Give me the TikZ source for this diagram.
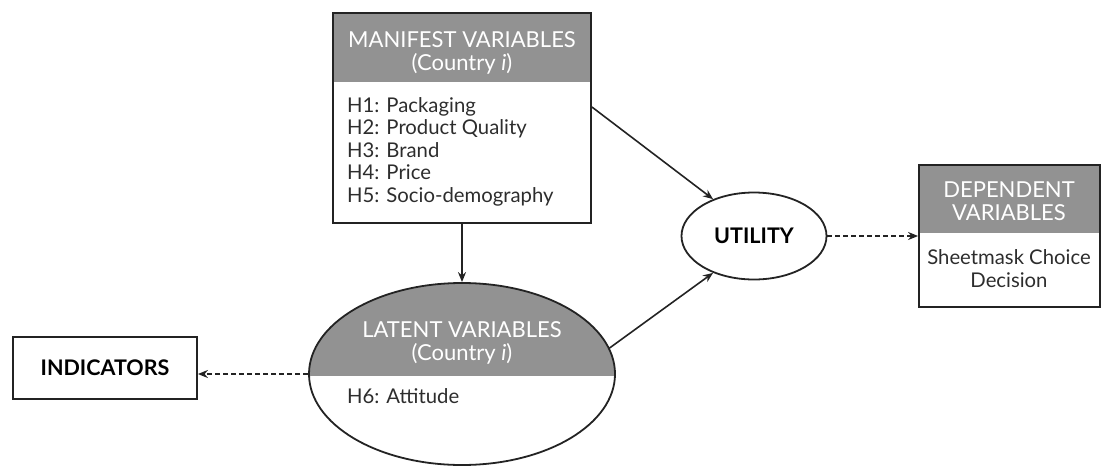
\documentclass[tikz,border=0pt]{standalone}
\usepackage{fontspec}
\setmainfont{Lato}
\usetikzlibrary{shapes.geometric,arrows.meta}
\definecolor{hdr}{RGB}{146,146,146}
\definecolor{ln}{RGB}{35,35,35}
\definecolor{txt}{RGB}{45,45,45}
\tikzset{
  frame/.style={draw=ln, line width=1.8pt, fill=none, inner sep=0pt},
  hdrtext/.style={text=white, align=center, font=\fontsize{22}{22.5}\selectfont, inner sep=0pt},
  bodytext/.style={text=txt, align=left, font=\fontsize{20.3}{22.5}\selectfont, inner sep=0pt},
  boldtext/.style={text=black, font=\fontsize{21.5}{22}\selectfont\bfseries, inner sep=0pt},
  conn/.style={draw=ln, line width=1.6pt, -{Stealth[length=10pt,width=8pt]}},
  dconn/.style={conn, dash pattern=on 5pt off 3pt},
}
\begin{document}
\begin{tikzpicture}[x=1pt,y=-1pt]
\useasboundingbox (0,0) rectangle (1105,466);
% ---- manifest box
\fill[hdr] (333,13) rectangle (591,82);
\node[frame, minimum width=258pt, minimum height=210pt] (man) at (462,118) {};
\node[hdrtext, anchor=base] (manh) at (462,70) {MANIFEST VARIABLES\\(Country \textit{i})};
\node[bodytext, anchor=north west] (manb) at (347,97)
  {H1: Packaging\\H2: Product Quality\\H3: Brand\\H4: Price\\H5: Socio-demography};
% ---- latent ellipse
\begin{scope}
  \clip (462,374) ellipse [x radius=153, y radius=91];
  \fill[hdr] (300,280) rectangle (620,376);
\end{scope}
\node[frame, ellipse, minimum width=306pt, minimum height=182pt] (lat) at (462,374) {};
\node[hdrtext, anchor=base] (lath) at (462,360) {LATENT VARIABLES\\(Country \textit{i})};
\node[bodytext, anchor=base west] (latb) at (347,403) {H6: Attitude};
% ---- utility
\node[frame, ellipse, minimum width=145pt, minimum height=87pt] (uti) at (754,236) {};
\node[boldtext] (utit) at (754,236) {UTILITY};
% ---- dependent
\fill[hdr] (919,165) rectangle (1100,233);
\node[frame, minimum width=181pt, minimum height=142pt] (dep) at (1009.5,236) {};
\node[hdrtext, anchor=base] (deph) at (1009,220) {DEPENDENT\\VARIABLES};
\node[bodytext, align=center, anchor=base] (depb) at (1009,287) {Sheetmask Choice\\Decision};
% ---- indicators
\node[frame, minimum width=184pt, minimum height=62pt] (ind) at (105,368) {};
\node[boldtext] (indt) at (105,368) {INDICATORS};
% ---- connectors
\coordinate (m1) at (591,107);
\draw[conn] (man.south) -- (lat.north);
\draw[conn] (man.east |- m1) -- (uti.138);
\draw[conn] (lat.10) -- (uti.222);
\draw[dconn] (uti.east) -- (dep.west |- uti.east);
\draw[dconn] (lat.west) -- (ind.east |- lat.west);
\end{tikzpicture}
\end{document}
